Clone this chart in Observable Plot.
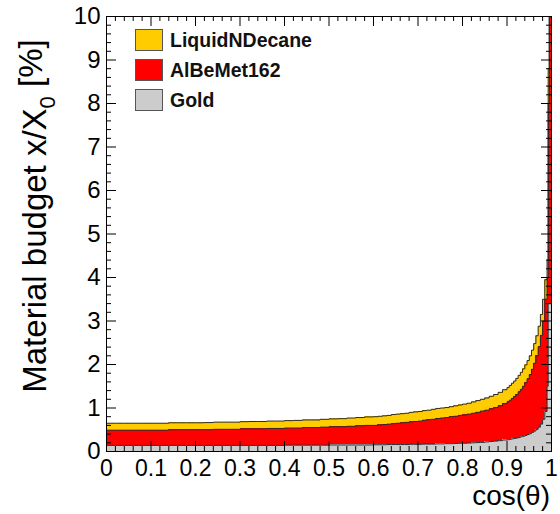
<!DOCTYPE html>
<html><head><meta charset="utf-8">
<script src="https://cdn.jsdelivr.net/npm/d3@7"></script>
<script src="https://cdn.jsdelivr.net/npm/@observablehq/plot@0.6"></script>
<style>
body{margin:0;background:#fff;}
#wrap{position:relative;width:560px;height:514px;font-family:"Liberation Sans",Arial,Helvetica,sans-serif;}
#legend{position:absolute;left:135px;top:29px;}
.row{display:flex;align-items:center;height:22px;margin-bottom:8px;}
.sw{width:28px;height:22px;border:1px solid #555;box-sizing:border-box;}
.lab{margin-left:7px;font-weight:bold;font-size:19.5px;color:#111;line-height:22px;}
</style></head>
<body><div id="wrap"><div id="legend"></div></div>
<script>
// ---- data ----
const seriesNames = ["Gold", "AlBeMet162", "LiquidNDecane"];
const seriesColors = ["#cccccc", "#ff0000", "#ffcc00"];
const legendOrder = ["LiquidNDecane", "AlBeMet162", "Gold"];

const binEdges = [
  0,0.02,0.04,0.06,0.08,0.10,0.12,0.14,0.16,0.18,0.20,0.22,0.24,0.26,0.28,0.30,
  0.32,0.34,0.36,0.38,0.40,0.42,0.44,0.46,0.48,0.50,0.52,0.54,0.56,0.58,0.60,
  0.61,0.62,0.63,0.64,0.65,0.66,0.67,0.68,0.69,0.70,0.71,0.72,0.73,0.74,0.75,
  0.76,0.77,0.78,0.79,0.80,0.81,0.82,0.83,0.84,0.85,0.86,0.87,0.88,0.89,0.90,
  0.905,0.91,0.915,0.92,0.925,0.93,0.935,0.94,0.945,0.95,0.955,0.96,0.965,0.97,
  0.975,0.98,0.985,0.99,0.9925,0.995,1.0
];

const gold = [
  0.14,0.14,0.14,0.14,0.14,0.14,0.14,0.14,0.14,0.14,0.14,0.14,0.14,0.14,0.14,
  0.14,0.14,0.14,0.14,0.14,0.145,0.145,0.145,0.145,0.145,0.15,0.15,0.15,0.15,0.15,
  0.155,0.155,0.155,0.16,0.16,0.16,0.16,0.16,0.165,0.165,0.165,0.17,0.17,0.17,0.175,
  0.175,0.18,0.18,0.185,0.19,0.19,0.195,0.20,0.205,0.21,0.22,0.23,0.24,0.25,0.265,
  0.27,0.28,0.29,0.30,0.31,0.32,0.34,0.35,0.37,0.39,0.41,0.44,0.47,0.51,0.56,0.63,0.74,0.92,
  1.5,3.4,3.4
];

const alBeMet162 = [
  0.35,0.35,0.35,0.35,0.35,0.35,0.35,0.36,0.36,0.36,0.36,0.36,0.37,0.37,0.37,
  0.38,0.38,0.38,0.39,0.39,0.395,0.395,0.405,0.405,0.415,0.42,0.42,0.43,0.44,0.45,
  0.445,0.455,0.465,0.47,0.48,0.49,0.50,0.51,0.515,0.525,0.535,0.55,0.56,0.57,0.585,
  0.595,0.60,0.62,0.625,0.64,0.65,0.665,0.68,0.695,0.72,0.73,0.75,0.77,0.80,0.835,
  0.87,0.90,0.93,0.96,1.00,1.05,1.09,1.15,1.21,1.28,1.36,1.45,1.56,1.69,1.85,2.04,2.26,2.58,
  2.5,4.6,9.0
];

const liquidNDecane = [
  0.16,0.16,0.16,0.16,0.16,0.16,0.16,0.16,0.16,0.16,0.16,0.165,0.165,0.165,0.165,
  0.165,0.17,0.17,0.17,0.17,0.17,0.175,0.175,0.175,0.18,0.18,0.185,0.19,0.19,0.195,
  0.20,0.20,0.20,0.20,0.21,0.21,0.21,0.21,0.22,0.22,0.22,0.22,0.22,0.23,0.23,
  0.23,0.23,0.23,0.24,0.24,0.25,0.25,0.26,0.27,0.27,0.28,0.29,0.30,0.31,0.32,
  0.33,0.34,0.35,0.36,0.37,0.38,0.39,0.40,0.41,0.42,0.43,0.44,0.45,0.46,0.47,0.48,0.50,0.45,
  0.4,0.8,0.5
];

const xTickLabels = [0,0.1,0.2,0.3,0.4,0.5,0.6,0.7,0.8,0.9,1];
const yTickLabels = [0,1,2,3,4,5,6,7,8,9,10];

// ---- build tables ----
const seriesValues = {"Gold": gold, "AlBeMet162": alBeMet162, "LiquidNDecane": liquidNDecane};
const rows = [];
for (const s of seriesNames) {
  seriesValues[s].forEach((v, i) => rows.push({series: s, lo: binEdges[i], hi: binEdges[i + 1], value: v}));
}
const outline = [];
const cum = new Array(gold.length).fill(0);
for (const s of seriesNames) {
  seriesValues[s].forEach((v, i) => {
    cum[i] += v;
    outline.push({series: s, x: binEdges[i], y: cum[i]});
    outline.push({series: s, x: binEdges[i + 1], y: cum[i]});
  });
}

const W = 560, H = 514, ML = 106, MR = 9, MT = 16, MB = 63;
const pw = W - ML - MR, ph = H - MT - MB;
const yMinor = d3.range(0, 10.001, 0.2).map(v => +v.toFixed(1)).filter(v => !yTickLabels.includes(v));
const xMinor = d3.range(0, 1.0001, 0.02).map(v => +v.toFixed(2)).filter(v => !xTickLabels.includes(v));

const MAJ = 10, MIN = 5;
const chart = Plot.plot({
  width: W, height: H,
  marginLeft: ML, marginRight: MR, marginTop: MT, marginBottom: MB,
  x: {domain: [0, 1]},
  y: {domain: [0, 10]},
  color: {domain: seriesNames, range: seriesColors},
  style: {fontFamily: "'Liberation Sans', Arial, Helvetica, sans-serif", color: "#000", background: "#fff"},
  marks: [
    Plot.rectY(rows, {x1: "lo", x2: "hi", y: "value", fill: "series", order: seriesNames, shapeRendering: "crispEdges", clip: true}),
    Plot.line(outline, {x: "x", y: "y", z: "series", stroke: "#2b2b2b", strokeWidth: 1, clip: true}),
    // inward ticks: left / right
    Plot.tickY(yTickLabels, {y: d => d, insetRight: pw - MAJ, stroke: "#000"}),
    Plot.tickY(yMinor, {y: d => d, insetRight: pw - MIN, stroke: "#000"}),
    Plot.tickY(yTickLabels, {y: d => d, insetLeft: pw - MAJ, stroke: "#000"}),
    Plot.tickY(yMinor, {y: d => d, insetLeft: pw - MIN, stroke: "#000"}),
    // inward ticks: bottom / top
    Plot.tickX(xTickLabels, {x: d => d, insetTop: ph - MAJ, stroke: "#000"}),
    Plot.tickX(xMinor, {x: d => d, insetTop: ph - MIN, stroke: "#000"}),
    Plot.tickX(xTickLabels, {x: d => d, insetBottom: ph - MAJ, stroke: "#000"}),
    Plot.tickX(xMinor, {x: d => d, insetBottom: ph - MIN, stroke: "#000"}),
    Plot.axisY(yTickLabels, {tickSize: 0, tickPadding: 6, fontSize: 24, label: null, tickFormat: d => String(d)}),
    Plot.axisX(xTickLabels, {tickSize: 0, tickPadding: 8, fontSize: 23, label: null, tickFormat: d => String(d)}),
    Plot.frame({stroke: "#000", strokeWidth: 1})
  ]
});

const svg = d3.select(chart);
const yt = svg.append("text")
  .attr("transform", "translate(46,216) rotate(-90)")
  .attr("text-anchor", "middle")
  .attr("font-size", 33)
  .attr("fill", "#000")
  .attr("font-family", "'Liberation Sans', Arial, sans-serif");
yt.append("tspan").text("Material budget x/X");
yt.append("tspan").attr("dy", "0.4em").attr("font-size", 22).text("0");
yt.append("tspan").attr("dy", "-0.4em").text(" [%]");

svg.append("text")
  .attr("x", 550).attr("y", 505)
  .attr("text-anchor", "end")
  .attr("font-size", 28)
  .attr("fill", "#000")
  .attr("font-family", "'Liberation Sans', Arial, sans-serif")
  .text("cos(θ)");

const wrap = document.getElementById("wrap");
wrap.insertBefore(chart, wrap.firstChild);

const legend = d3.select("#legend");
for (const name of legendOrder) {
  const row = legend.append("div").attr("class", "row");
  row.append("div").attr("class", "sw").style("background", seriesColors[seriesNames.indexOf(name)]);
  row.append("div").attr("class", "lab").text(name);
}
</script></body></html>
